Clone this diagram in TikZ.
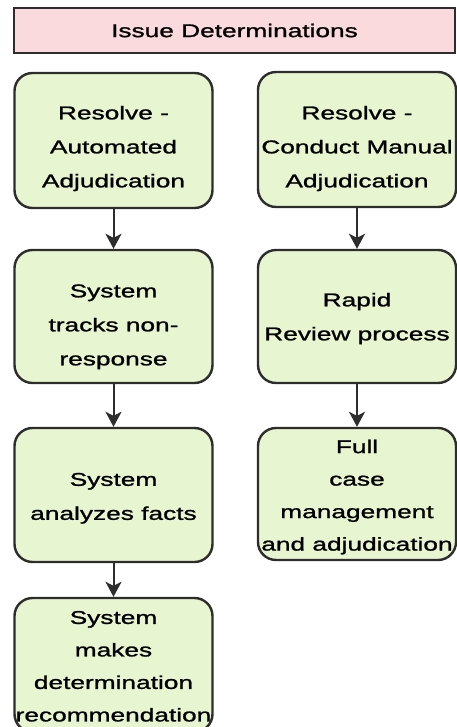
\documentclass[tikz,border=0pt]{standalone}
\usepackage{fontspec}
\setmainfont[FakeStretch=1.42,FakeBold=1.2]{Liberation Sans}
\usetikzlibrary{arrows.meta}
\definecolor{edgegray}{RGB}{45,45,45}
\definecolor{titlepink}{RGB}{250,218,220}
\definecolor{boxgreen}{RGB}{231,245,208}
% strut on the first line: pushes the text of a box down by half of (#1 - 13.5pt)
\newcommand{\topgap}[1]{\rule{0pt}{#1}}
\tikzset{
  titlebar/.style={draw=edgegray, fill=titlepink, line width=2.4pt, inner sep=0pt,
    minimum width=441pt, minimum height=45pt, font=\fontsize{18.5}{34}\selectfont},
  stepbox/.style={draw=edgegray, fill=boxgreen, line width=2.4pt, rounded corners=18pt,
    inner sep=0pt, minimum width=198pt, align=center,
    font=\fontsize{18.5}{34}\selectfont},
  tight/.style={font=\fontsize{18.5}{32.5}\selectfont},
  flow/.style={-{Stealth[length=15pt,width=16pt,inset=4pt]}, line width=2pt, draw=edgegray}
}
\begin{document}
\begin{tikzpicture}[x=1pt,y=-1pt]
    \useasboundingbox (0,0) rectangle (457,727);
    \node[titlebar] (title) at (234.5,30.5) {Issue Determinations};
    % left column
    \node[stepbox, minimum height=135pt] (autoadj) at (113.5,140.5) {\topgap{29.5pt}Resolve -\\Automated\\Adjudication};
    \node[stepbox, minimum height=133pt] (track) at (113.5,316.5) {\topgap{33.5pt}System\\tracks non-\\response};
    \node[stepbox, minimum height=134pt] (analyze) at (113.5,495) {\topgap{19.5pt}System\\analyzes facts};
    \node[stepbox, tight, minimum height=134pt] (recommend) at (113.5,665) {\topgap{15.5pt}System\\makes\\determination\\recommendation};
    % right column
    \node[stepbox, minimum height=135pt] (manualadj) at (357,139.5) {\topgap{31.5pt}Resolve -\\Conduct Manual\\Adjudication};
    \node[stepbox, minimum height=133pt] (rapid) at (357,316.5) {\topgap{17.5pt}Rapid\\Review process};
    \node[stepbox, tight, minimum height=132pt] (fullcase) at (357,494) {\topgap{19.5pt}Full\\case\\management\\and adjudication};
    \draw[flow] (autoadj) -- (track);
    \draw[flow] (track) -- (analyze);
    \draw[flow] (analyze) -- (recommend);
    \draw[flow] (manualadj) -- (rapid);
    \draw[flow] (rapid) -- (fullcase);
\end{tikzpicture}
\end{document}
